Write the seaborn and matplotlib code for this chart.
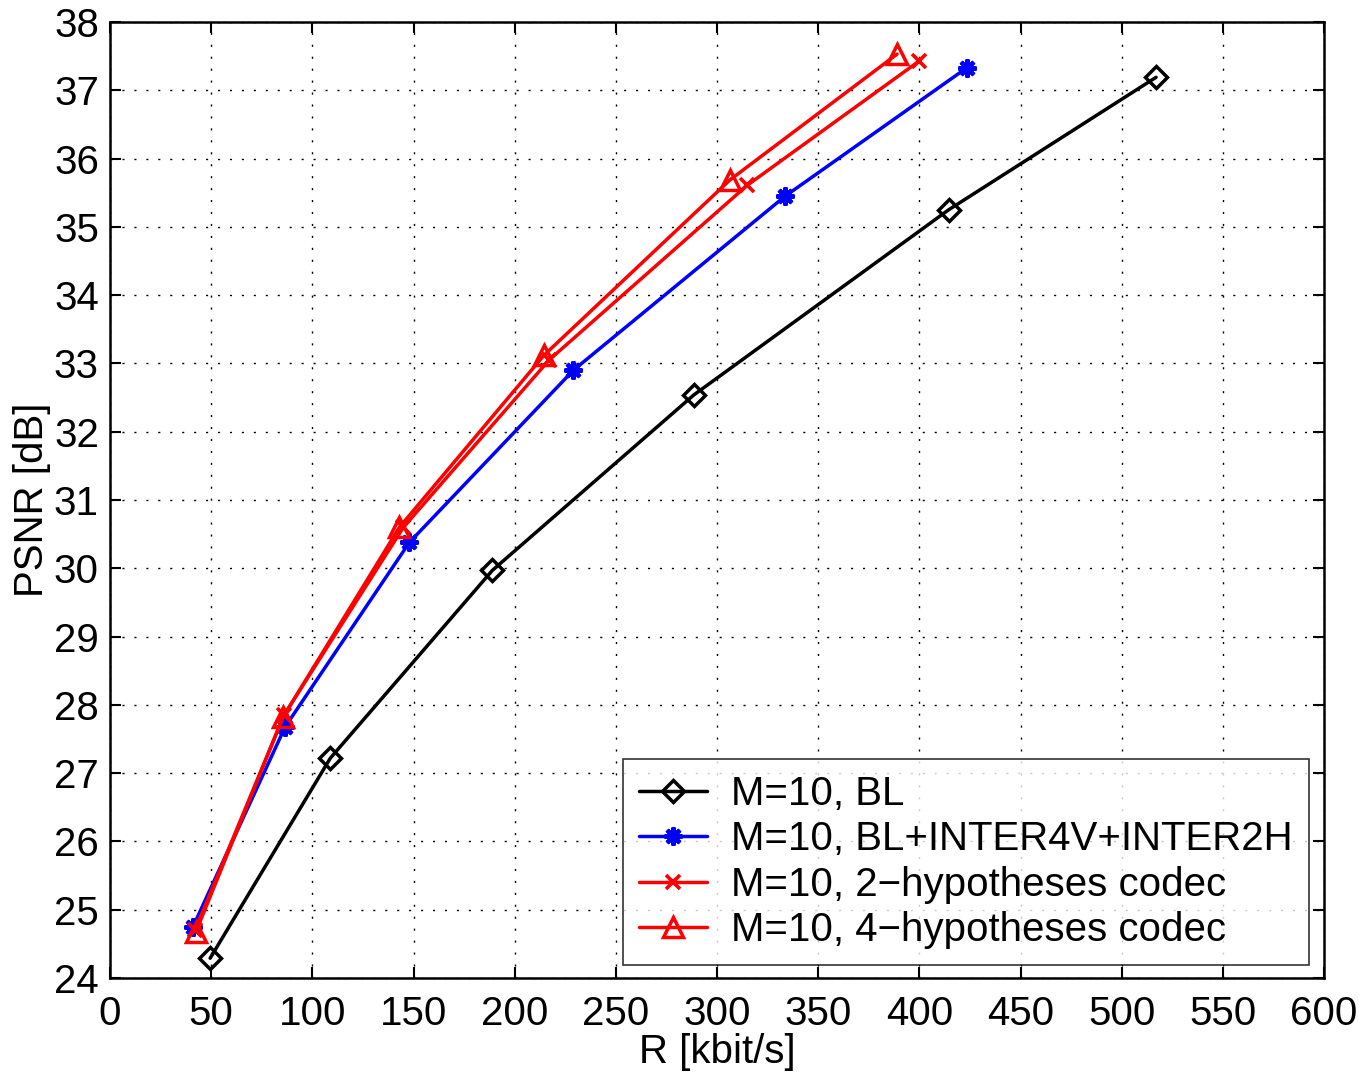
import numpy as np
import pandas as pd
import matplotlib
matplotlib.use('Agg')
import matplotlib.pyplot as plt
import seaborn as sns

# данные
r_bl = [49.5, 108.9, 189.0, 288.6, 414.5, 517.0]
psnr_bl = [24.29, 27.22, 29.97, 32.54, 35.25, 37.19]

r_inter = [41.0, 86.6, 148.0, 229.0, 333.7, 423.5]
psnr_inter = [24.75, 27.68, 30.38, 32.90, 35.45, 37.33]

r_2h = [42.0, 86.0, 145.0, 217.0, 315.0, 400.0]
psnr_2h = [24.70, 27.85, 30.60, 33.05, 35.61, 37.43]

r_4h = [42.5, 85.5, 143.0, 214.5, 306.5, 389.0]
psnr_4h = [24.68, 27.82, 30.60, 33.12, 35.69, 37.53]

labels = ['M=10, BL', 'M=10, BL+INTER4V+INTER2H',
          'M=10, 2\u2212hypotheses codec', 'M=10, 4\u2212hypotheses codec']

sns.set_style('white')
plt.rcParams['font.family'] = ['Liberation Sans', 'DejaVu Sans']
plt.rcParams['text.color'] = 'black'
plt.rcParams['axes.labelcolor'] = 'black'

fig = plt.figure(figsize=(13.59, 10.73), dpi=100)
ax = fig.add_axes([110 / 1359, 1 - 978 / 1073, 1214 / 1359, 956 / 1073])

lw = 2.5
fs = 29
# BL
sns.lineplot(x=r_bl, y=psnr_bl, color='black', marker='D', markersize=11,
             markerfacecolor='none', markeredgecolor='black', markeredgewidth=2.5,
             linewidth=lw, label=labels[0], sort=False, ax=ax)
# BL+INTER4V+INTER2H
sns.lineplot(x=r_inter, y=psnr_inter, color='blue', marker=(8, 2, 0), markersize=13,
             markeredgecolor='blue', markeredgewidth=3.0,
             linewidth=lw, label=labels[1], sort=False, ax=ax)
# 2-hypotheses
sns.lineplot(x=r_2h, y=psnr_2h, color='red', marker='x', markersize=10,
             markeredgecolor='red', markeredgewidth=2.6,
             linewidth=lw, label=labels[2], sort=False, ax=ax)
# 4-hypotheses
sns.lineplot(x=r_4h, y=psnr_4h, color='red', marker='^', markersize=15,
             markerfacecolor='none', markeredgecolor='red', markeredgewidth=2.5,
             linewidth=lw, label=labels[3], sort=False, ax=ax)

ax.set_xlim(0, 600)
ax.set_ylim(24, 38)
ax.set_xticks(np.arange(0, 601, 50))
ax.set_yticks(np.arange(24, 39, 1))
ax.grid(True, color='black', linestyle=(0, (1.5, 7.1)), linewidth=1.0)
ax.tick_params(direction='in', length=8, width=1.5, labelsize=fs,
               top=True, right=True, bottom=True, left=True, colors='black')
ax.tick_params(axis='x', pad=12)
ax.tick_params(axis='y', pad=8)
for s in ax.spines.values():
    s.set_visible(True)
    s.set_color('black')
    s.set_linewidth(1.8)

ax.set_xlabel('R [kbit/s]', fontsize=fs, labelpad=0)
ax.set_ylabel('PSNR [dB]', fontsize=fs, labelpad=2)

leg = ax.legend(loc='lower right', bbox_to_anchor=((1309 - 110) / 1214, (978 - 965) / 956),
                fontsize=fs, frameon=True, fancybox=False, borderpad=0.4,
                handlelength=1.7, handletextpad=0.6, labelspacing=0.18,
                borderaxespad=0)
leg.get_frame().set_edgecolor('black')
leg.get_frame().set_linewidth(1.2)
for t in leg.get_texts():
    t.set_color('black')

fig.savefig('out.png', dpi=100)
